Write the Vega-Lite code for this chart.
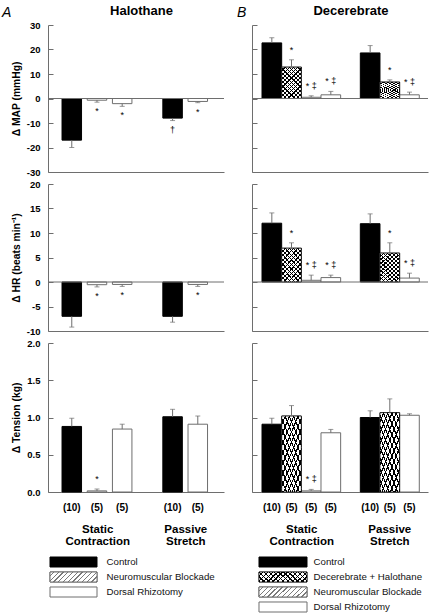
{
"$schema": "https://vega.github.io/schema/vega-lite/v6.json",
"background": "white",
"padding": {"left": 2, "top": 4, "right": 0, "bottom": 0},
"datasets": {"bars": [
{"col":"A","m":"MAP","group":"Static Contraction","cond":"Control","bar":"S-Control","mean":-17,"errEnd":-20,"sig":""},
{"col":"A","m":"MAP","group":"Static Contraction","cond":"Neuromuscular Blockade","bar":"S-NMB","mean":-0.7,"errEnd":-1.5,"sig":"*"},
{"col":"A","m":"MAP","group":"Static Contraction","cond":"Dorsal Rhizotomy","bar":"S-DR","mean":-2.1,"errEnd":-3.2,"sig":"*"},
{"col":"A","m":"MAP","group":"Passive Stretch","cond":"Control","bar":"P-Control","mean":-8,"errEnd":-9,"sig":"†"},
{"col":"A","m":"MAP","group":"Passive Stretch","cond":"Dorsal Rhizotomy","bar":"P-DR","mean":-1.2,"errEnd":-1.7,"sig":"*"},
{"col":"A","m":"HR","group":"Static Contraction","cond":"Control","bar":"S-Control","mean":-7,"errEnd":-9.2,"sig":""},
{"col":"A","m":"HR","group":"Static Contraction","cond":"Neuromuscular Blockade","bar":"S-NMB","mean":-0.55,"errEnd":-1.0,"sig":"*"},
{"col":"A","m":"HR","group":"Static Contraction","cond":"Dorsal Rhizotomy","bar":"S-DR","mean":-0.5,"errEnd":-0.9,"sig":"*"},
{"col":"A","m":"HR","group":"Passive Stretch","cond":"Control","bar":"P-Control","mean":-7,"errEnd":-8.2,"sig":""},
{"col":"A","m":"HR","group":"Passive Stretch","cond":"Dorsal Rhizotomy","bar":"P-DR","mean":-0.5,"errEnd":-0.9,"sig":"*"},
{"col":"A","m":"Tension","group":"Static Contraction","cond":"Control","bar":"S-Control","mean":0.88,"errEnd":0.99,"sig":""},
{"col":"A","m":"Tension","group":"Static Contraction","cond":"Neuromuscular Blockade","bar":"S-NMB","mean":0.015,"errEnd":0.04,"sig":"*"},
{"col":"A","m":"Tension","group":"Static Contraction","cond":"Dorsal Rhizotomy","bar":"S-DR","mean":0.845,"errEnd":0.91,"sig":""},
{"col":"A","m":"Tension","group":"Passive Stretch","cond":"Control","bar":"P-Control","mean":1.01,"errEnd":1.11,"sig":""},
{"col":"A","m":"Tension","group":"Passive Stretch","cond":"Dorsal Rhizotomy","bar":"P-DR","mean":0.91,"errEnd":1.02,"sig":""},
{"col":"B","m":"MAP","group":"Static Contraction","cond":"Control","bar":"S-Control","mean":22.7,"errEnd":24.8,"sig":""},
{"col":"B","m":"MAP","group":"Static Contraction","cond":"Decerebrate + Halothane","bar":"S-Dec","mean":12.8,"errEnd":15.8,"sig":"*"},
{"col":"B","m":"MAP","group":"Static Contraction","cond":"Neuromuscular Blockade","bar":"S-NMB","mean":0.5,"errEnd":1.1,"sig":"* ‡"},
{"col":"B","m":"MAP","group":"Static Contraction","cond":"Dorsal Rhizotomy","bar":"S-DR","mean":1.5,"errEnd":2.9,"sig":"* ‡"},
{"col":"B","m":"MAP","group":"Passive Stretch","cond":"Control","bar":"P-Control","mean":18.6,"errEnd":21.6,"sig":""},
{"col":"B","m":"MAP","group":"Passive Stretch","cond":"Decerebrate + Halothane","bar":"P-Dec","mean":6.7,"errEnd":7.6,"sig":"*"},
{"col":"B","m":"MAP","group":"Passive Stretch","cond":"Dorsal Rhizotomy","bar":"P-DR","mean":1.5,"errEnd":2.6,"sig":"* ‡"},
{"col":"B","m":"HR","group":"Static Contraction","cond":"Control","bar":"S-Control","mean":12.0,"errEnd":14.1,"sig":""},
{"col":"B","m":"HR","group":"Static Contraction","cond":"Decerebrate + Halothane","bar":"S-Dec","mean":6.9,"errEnd":8.0,"sig":"*"},
{"col":"B","m":"HR","group":"Static Contraction","cond":"Neuromuscular Blockade","bar":"S-NMB","mean":0.35,"errEnd":1.4,"sig":"* ‡"},
{"col":"B","m":"HR","group":"Static Contraction","cond":"Dorsal Rhizotomy","bar":"S-DR","mean":0.9,"errEnd":1.4,"sig":"* ‡"},
{"col":"B","m":"HR","group":"Passive Stretch","cond":"Control","bar":"P-Control","mean":11.9,"errEnd":13.9,"sig":""},
{"col":"B","m":"HR","group":"Passive Stretch","cond":"Decerebrate + Halothane","bar":"P-Dec","mean":5.9,"errEnd":8.0,"sig":"*"},
{"col":"B","m":"HR","group":"Passive Stretch","cond":"Dorsal Rhizotomy","bar":"P-DR","mean":0.8,"errEnd":1.8,"sig":"* ‡"},
{"col":"B","m":"Tension","group":"Static Contraction","cond":"Control","bar":"S-Control","mean":0.91,"errEnd":0.99,"sig":""},
{"col":"B","m":"Tension","group":"Static Contraction","cond":"Decerebrate + Halothane","bar":"S-Dec","mean":1.02,"errEnd":1.16,"sig":""},
{"col":"B","m":"Tension","group":"Static Contraction","cond":"Neuromuscular Blockade","bar":"S-NMB","mean":0.015,"errEnd":0.035,"sig":"* ‡"},
{"col":"B","m":"Tension","group":"Static Contraction","cond":"Dorsal Rhizotomy","bar":"S-DR","mean":0.795,"errEnd":0.84,"sig":""},
{"col":"B","m":"Tension","group":"Passive Stretch","cond":"Control","bar":"P-Control","mean":1.0,"errEnd":1.09,"sig":""},
{"col":"B","m":"Tension","group":"Passive Stretch","cond":"Decerebrate + Halothane","bar":"P-Dec","mean":1.065,"errEnd":1.25,"sig":""},
{"col":"B","m":"Tension","group":"Passive Stretch","cond":"Dorsal Rhizotomy","bar":"P-DR","mean":1.03,"errEnd":1.05,"sig":""}
]},
"columns": 2,
"spacing": {"row": 12, "column": 28},
"bounds": "flush",
"align": "each",
"concat": [
{"width": 176, "height": 1, "data": {"values": [{}]}, "mark": {"type": "point", "opacity": 0},
 "title": {"text": "A", "anchor": "start", "dx": -46, "offset": -10.5, "fontStyle": "italic", "fontWeight": "normal", "fontSize": 14}},
{"width": 176, "height": 1, "data": {"values": [{}]}, "mark": {"type": "point", "opacity": 0},
 "title": {"text": "B", "anchor": "start", "dx": -15, "offset": -10.5, "fontStyle": "italic", "fontWeight": "normal", "fontSize": 14}},

{"width": 176, "height": 147,
 "title": {"text": "Halothane", "dx": 5.5, "offset": 2.5},
 "data": {"name": "bars"},
 "transform": [{"filter": "datum.col === 'A' && datum.m === 'MAP'"}],
 "layer": [
  {"mark": {"type": "bar", "strokeWidth": 1},
   "encoding": {
    "x": {"field": "bar", "type": "nominal", "scale": {"domain": ["S-Control","S-NMB","S-DR","gap","P-Control","P-DR"], "paddingInner": 0.226, "paddingOuter": 0.605, "align": 0.46}, "axis": {"labels": false, "ticks": false, "title": null}},
    "y": {"field": "mean", "type": "quantitative", "scale": {"domain": [-30, 30], "nice": false}, "axis": {"values": [-30,-20,-10,0,10,20,30], "tickCount": 20, "labelOverlap": false, "labelExpr": "'' + datum.value", "title": "Δ MAP (mmHg)"}},
    "fill": {"condition": {"test": "datum.cond === 'Control'", "value": "#000"}, "value": "#fff"},
    "stroke": {"condition": {"test": "datum.cond === 'Control'", "value": "#000"}, "value": "#6e6e6e"}}},
  {"mark": {"type": "rule", "color": "#6e6e6e"}, "encoding": {"x": {"field": "bar", "type": "nominal"}, "y": {"field": "mean", "type": "quantitative"}, "y2": {"field": "errEnd"}}},
  {"mark": {"type": "tick", "color": "#6e6e6e", "size": 5, "thickness": 1}, "encoding": {"x": {"field": "bar", "type": "nominal"}, "y": {"field": "errEnd", "type": "quantitative"}}},
  {"data": {"values": [{}]}, "mark": {"type": "rule", "color": "#6e6e6e"}, "encoding": {"y": {"datum": 0}}},
  {"transform": [{"filter": "datum.sig !== '' && datum.mean < 0"}], "mark": {"type": "text", "dy": 9, "fontSize": 9, "color": "#000"}, "encoding": {"x": {"field": "bar", "type": "nominal"}, "y": {"field": "errEnd", "type": "quantitative"}, "text": {"field": "sig"}}}
 ]},

{"width": 176, "height": 147,
 "title": {"text": "Decerebrate", "dx": 11, "offset": 7},
 "data": {"name": "bars"},
 "transform": [{"filter": "datum.col === 'B' && datum.m === 'MAP'"}],
 "layer": [
  {"mark": {"type": "bar", "strokeWidth": 1},
   "encoding": {
    "x": {"field": "bar", "type": "nominal", "scale": {"domain": ["S-Control","S-Dec","S-NMB","S-DR","gap","P-Control","P-Dec","P-DR"], "paddingInner": 0, "paddingOuter": 0.476, "align": 0.535}, "axis": {"labels": false, "ticks": false, "title": null}},
    "y": {"field": "mean", "type": "quantitative", "scale": {"domain": [-30, 30], "nice": false}, "axis": {"values": [-30,-20,-10,0,10,20,30], "tickCount": 20, "labels": false, "title": null}},
    "fill": {"condition": {"test": "datum.cond === 'Control'", "value": "#000"}, "value": "#fff"},
    "stroke": {"condition": {"test": "datum.cond === 'Control'", "value": "#000"}, "value": "#6e6e6e"}}},
  {"transform": [{"filter": "datum.cond === 'Decerebrate + Halothane'"}], "mark": {"type": "bar", "stroke": "#000", "strokeWidth": 0.8, "fill": {"gradient": "linear", "x1": 0, "y1": 0, "x2": 0.73, "y2": 1.168, "stops": [{"offset":0,"color":"#fff"},{"offset":0.06,"color":"#fff"},{"offset":0.06,"color":"#000"},{"offset":0.0833,"color":"#000"},{"offset":0.0833,"color":"#fff"},{"offset":0.1433,"color":"#fff"},{"offset":0.1433,"color":"#000"},{"offset":0.1667,"color":"#000"},{"offset":0.1667,"color":"#fff"},{"offset":0.2267,"color":"#fff"},{"offset":0.2267,"color":"#000"},{"offset":0.25,"color":"#000"},{"offset":0.25,"color":"#fff"},{"offset":0.31,"color":"#fff"},{"offset":0.31,"color":"#000"},{"offset":0.3333,"color":"#000"},{"offset":0.3333,"color":"#fff"},{"offset":0.3933,"color":"#fff"},{"offset":0.3933,"color":"#000"},{"offset":0.4167,"color":"#000"},{"offset":0.4167,"color":"#fff"},{"offset":0.4767,"color":"#fff"},{"offset":0.4767,"color":"#000"},{"offset":0.5,"color":"#000"},{"offset":0.5,"color":"#fff"},{"offset":0.56,"color":"#fff"},{"offset":0.56,"color":"#000"},{"offset":0.5833,"color":"#000"},{"offset":0.5833,"color":"#fff"},{"offset":0.6433,"color":"#fff"},{"offset":0.6433,"color":"#000"},{"offset":0.6667,"color":"#000"},{"offset":0.6667,"color":"#fff"},{"offset":0.7267,"color":"#fff"},{"offset":0.7267,"color":"#000"},{"offset":0.75,"color":"#000"},{"offset":0.75,"color":"#fff"},{"offset":0.81,"color":"#fff"},{"offset":0.81,"color":"#000"},{"offset":0.8333,"color":"#000"},{"offset":0.8333,"color":"#fff"},{"offset":0.8933,"color":"#fff"},{"offset":0.8933,"color":"#000"},{"offset":0.9167,"color":"#000"},{"offset":0.9167,"color":"#fff"},{"offset":0.9767,"color":"#fff"},{"offset":0.9767,"color":"#000"},{"offset":1,"color":"#000"}]}}, "encoding": {"x": {"field": "bar", "type": "nominal"}, "y": {"field": "mean", "type": "quantitative"}}},
  {"transform": [{"filter": "datum.cond === 'Decerebrate + Halothane'"}], "mark": {"type": "bar", "strokeWidth": 0, "fill": {"gradient": "linear", "x1": 1, "y1": 0, "x2": 0.27, "y2": 1.168, "stops": [{"offset":0,"color":"rgba(0,0,0,0)"},{"offset":0.06,"color":"rgba(0,0,0,0)"},{"offset":0.06,"color":"#000"},{"offset":0.0833,"color":"#000"},{"offset":0.0833,"color":"rgba(0,0,0,0)"},{"offset":0.1433,"color":"rgba(0,0,0,0)"},{"offset":0.1433,"color":"#000"},{"offset":0.1667,"color":"#000"},{"offset":0.1667,"color":"rgba(0,0,0,0)"},{"offset":0.2267,"color":"rgba(0,0,0,0)"},{"offset":0.2267,"color":"#000"},{"offset":0.25,"color":"#000"},{"offset":0.25,"color":"rgba(0,0,0,0)"},{"offset":0.31,"color":"rgba(0,0,0,0)"},{"offset":0.31,"color":"#000"},{"offset":0.3333,"color":"#000"},{"offset":0.3333,"color":"rgba(0,0,0,0)"},{"offset":0.3933,"color":"rgba(0,0,0,0)"},{"offset":0.3933,"color":"#000"},{"offset":0.4167,"color":"#000"},{"offset":0.4167,"color":"rgba(0,0,0,0)"},{"offset":0.4767,"color":"rgba(0,0,0,0)"},{"offset":0.4767,"color":"#000"},{"offset":0.5,"color":"#000"},{"offset":0.5,"color":"rgba(0,0,0,0)"},{"offset":0.56,"color":"rgba(0,0,0,0)"},{"offset":0.56,"color":"#000"},{"offset":0.5833,"color":"#000"},{"offset":0.5833,"color":"rgba(0,0,0,0)"},{"offset":0.6433,"color":"rgba(0,0,0,0)"},{"offset":0.6433,"color":"#000"},{"offset":0.6667,"color":"#000"},{"offset":0.6667,"color":"rgba(0,0,0,0)"},{"offset":0.7267,"color":"rgba(0,0,0,0)"},{"offset":0.7267,"color":"#000"},{"offset":0.75,"color":"#000"},{"offset":0.75,"color":"rgba(0,0,0,0)"},{"offset":0.81,"color":"rgba(0,0,0,0)"},{"offset":0.81,"color":"#000"},{"offset":0.8333,"color":"#000"},{"offset":0.8333,"color":"rgba(0,0,0,0)"},{"offset":0.8933,"color":"rgba(0,0,0,0)"},{"offset":0.8933,"color":"#000"},{"offset":0.9167,"color":"#000"},{"offset":0.9167,"color":"rgba(0,0,0,0)"},{"offset":0.9767,"color":"rgba(0,0,0,0)"},{"offset":0.9767,"color":"#000"},{"offset":1,"color":"#000"}]}}, "encoding": {"x": {"field": "bar", "type": "nominal"}, "y": {"field": "mean", "type": "quantitative"}}},
  {"mark": {"type": "rule", "color": "#6e6e6e"}, "encoding": {"x": {"field": "bar", "type": "nominal"}, "y": {"field": "mean", "type": "quantitative"}, "y2": {"field": "errEnd"}}},
  {"mark": {"type": "tick", "color": "#6e6e6e", "size": 5, "thickness": 1}, "encoding": {"x": {"field": "bar", "type": "nominal"}, "y": {"field": "errEnd", "type": "quantitative"}}},
  {"data": {"values": [{}]}, "mark": {"type": "rule", "color": "#6e6e6e"}, "encoding": {"y": {"datum": 0}}},
  {"transform": [{"filter": "datum.sig !== '' && datum.mean >= 0"}], "mark": {"type": "text", "dy": -10, "fontSize": 9, "color": "#000"}, "encoding": {"x": {"field": "bar", "type": "nominal"}, "y": {"field": "errEnd", "type": "quantitative"}, "text": {"field": "sig"}}}
 ]},

{"width": 176, "height": 147,
 "data": {"name": "bars"},
 "transform": [{"filter": "datum.col === 'A' && datum.m === 'HR'"}],
 "layer": [
  {"mark": {"type": "bar", "strokeWidth": 1},
   "encoding": {
    "x": {"field": "bar", "type": "nominal", "scale": {"domain": ["S-Control","S-NMB","S-DR","gap","P-Control","P-DR"], "paddingInner": 0.226, "paddingOuter": 0.605, "align": 0.46}, "axis": {"labels": false, "ticks": false, "title": null}},
    "y": {"field": "mean", "type": "quantitative", "scale": {"domain": [-10, 20], "nice": false}, "axis": {"values": [-10,-5,0,5,10,15,20], "tickCount": 20, "labelOverlap": false, "labelExpr": "'' + datum.value", "title": "Δ HR (beats min⁻¹)"}},
    "fill": {"condition": {"test": "datum.cond === 'Control'", "value": "#000"}, "value": "#fff"},
    "stroke": {"condition": {"test": "datum.cond === 'Control'", "value": "#000"}, "value": "#6e6e6e"}}},
  {"mark": {"type": "rule", "color": "#6e6e6e"}, "encoding": {"x": {"field": "bar", "type": "nominal"}, "y": {"field": "mean", "type": "quantitative"}, "y2": {"field": "errEnd"}}},
  {"mark": {"type": "tick", "color": "#6e6e6e", "size": 5, "thickness": 1}, "encoding": {"x": {"field": "bar", "type": "nominal"}, "y": {"field": "errEnd", "type": "quantitative"}}},
  {"data": {"values": [{}]}, "mark": {"type": "rule", "color": "#6e6e6e"}, "encoding": {"y": {"datum": 0}}},
  {"transform": [{"filter": "datum.sig !== '' && datum.mean < 0"}], "mark": {"type": "text", "dy": 9, "fontSize": 9, "color": "#000"}, "encoding": {"x": {"field": "bar", "type": "nominal"}, "y": {"field": "errEnd", "type": "quantitative"}, "text": {"field": "sig"}}}
 ]},

{"width": 176, "height": 147,
 "data": {"name": "bars"},
 "transform": [{"filter": "datum.col === 'B' && datum.m === 'HR'"}],
 "layer": [
  {"mark": {"type": "bar", "strokeWidth": 1},
   "encoding": {
    "x": {"field": "bar", "type": "nominal", "scale": {"domain": ["S-Control","S-Dec","S-NMB","S-DR","gap","P-Control","P-Dec","P-DR"], "paddingInner": 0, "paddingOuter": 0.476, "align": 0.535}, "axis": {"labels": false, "ticks": false, "title": null}},
    "y": {"field": "mean", "type": "quantitative", "scale": {"domain": [-10, 20], "nice": false}, "axis": {"values": [-10,-5,0,5,10,15,20], "tickCount": 20, "labels": false, "title": null}},
    "fill": {"condition": {"test": "datum.cond === 'Control'", "value": "#000"}, "value": "#fff"},
    "stroke": {"condition": {"test": "datum.cond === 'Control'", "value": "#000"}, "value": "#6e6e6e"}}},
  {"transform": [{"filter": "datum.cond === 'Decerebrate + Halothane'"}], "mark": {"type": "bar", "stroke": "#000", "strokeWidth": 0.8, "fill": {"gradient": "linear", "x1": 0, "y1": 0, "x2": 0.73, "y2": 1.168, "stops": [{"offset":0,"color":"#fff"},{"offset":0.06,"color":"#fff"},{"offset":0.06,"color":"#000"},{"offset":0.0833,"color":"#000"},{"offset":0.0833,"color":"#fff"},{"offset":0.1433,"color":"#fff"},{"offset":0.1433,"color":"#000"},{"offset":0.1667,"color":"#000"},{"offset":0.1667,"color":"#fff"},{"offset":0.2267,"color":"#fff"},{"offset":0.2267,"color":"#000"},{"offset":0.25,"color":"#000"},{"offset":0.25,"color":"#fff"},{"offset":0.31,"color":"#fff"},{"offset":0.31,"color":"#000"},{"offset":0.3333,"color":"#000"},{"offset":0.3333,"color":"#fff"},{"offset":0.3933,"color":"#fff"},{"offset":0.3933,"color":"#000"},{"offset":0.4167,"color":"#000"},{"offset":0.4167,"color":"#fff"},{"offset":0.4767,"color":"#fff"},{"offset":0.4767,"color":"#000"},{"offset":0.5,"color":"#000"},{"offset":0.5,"color":"#fff"},{"offset":0.56,"color":"#fff"},{"offset":0.56,"color":"#000"},{"offset":0.5833,"color":"#000"},{"offset":0.5833,"color":"#fff"},{"offset":0.6433,"color":"#fff"},{"offset":0.6433,"color":"#000"},{"offset":0.6667,"color":"#000"},{"offset":0.6667,"color":"#fff"},{"offset":0.7267,"color":"#fff"},{"offset":0.7267,"color":"#000"},{"offset":0.75,"color":"#000"},{"offset":0.75,"color":"#fff"},{"offset":0.81,"color":"#fff"},{"offset":0.81,"color":"#000"},{"offset":0.8333,"color":"#000"},{"offset":0.8333,"color":"#fff"},{"offset":0.8933,"color":"#fff"},{"offset":0.8933,"color":"#000"},{"offset":0.9167,"color":"#000"},{"offset":0.9167,"color":"#fff"},{"offset":0.9767,"color":"#fff"},{"offset":0.9767,"color":"#000"},{"offset":1,"color":"#000"}]}}, "encoding": {"x": {"field": "bar", "type": "nominal"}, "y": {"field": "mean", "type": "quantitative"}}},
  {"transform": [{"filter": "datum.cond === 'Decerebrate + Halothane'"}], "mark": {"type": "bar", "strokeWidth": 0, "fill": {"gradient": "linear", "x1": 1, "y1": 0, "x2": 0.27, "y2": 1.168, "stops": [{"offset":0,"color":"rgba(0,0,0,0)"},{"offset":0.06,"color":"rgba(0,0,0,0)"},{"offset":0.06,"color":"#000"},{"offset":0.0833,"color":"#000"},{"offset":0.0833,"color":"rgba(0,0,0,0)"},{"offset":0.1433,"color":"rgba(0,0,0,0)"},{"offset":0.1433,"color":"#000"},{"offset":0.1667,"color":"#000"},{"offset":0.1667,"color":"rgba(0,0,0,0)"},{"offset":0.2267,"color":"rgba(0,0,0,0)"},{"offset":0.2267,"color":"#000"},{"offset":0.25,"color":"#000"},{"offset":0.25,"color":"rgba(0,0,0,0)"},{"offset":0.31,"color":"rgba(0,0,0,0)"},{"offset":0.31,"color":"#000"},{"offset":0.3333,"color":"#000"},{"offset":0.3333,"color":"rgba(0,0,0,0)"},{"offset":0.3933,"color":"rgba(0,0,0,0)"},{"offset":0.3933,"color":"#000"},{"offset":0.4167,"color":"#000"},{"offset":0.4167,"color":"rgba(0,0,0,0)"},{"offset":0.4767,"color":"rgba(0,0,0,0)"},{"offset":0.4767,"color":"#000"},{"offset":0.5,"color":"#000"},{"offset":0.5,"color":"rgba(0,0,0,0)"},{"offset":0.56,"color":"rgba(0,0,0,0)"},{"offset":0.56,"color":"#000"},{"offset":0.5833,"color":"#000"},{"offset":0.5833,"color":"rgba(0,0,0,0)"},{"offset":0.6433,"color":"rgba(0,0,0,0)"},{"offset":0.6433,"color":"#000"},{"offset":0.6667,"color":"#000"},{"offset":0.6667,"color":"rgba(0,0,0,0)"},{"offset":0.7267,"color":"rgba(0,0,0,0)"},{"offset":0.7267,"color":"#000"},{"offset":0.75,"color":"#000"},{"offset":0.75,"color":"rgba(0,0,0,0)"},{"offset":0.81,"color":"rgba(0,0,0,0)"},{"offset":0.81,"color":"#000"},{"offset":0.8333,"color":"#000"},{"offset":0.8333,"color":"rgba(0,0,0,0)"},{"offset":0.8933,"color":"rgba(0,0,0,0)"},{"offset":0.8933,"color":"#000"},{"offset":0.9167,"color":"#000"},{"offset":0.9167,"color":"rgba(0,0,0,0)"},{"offset":0.9767,"color":"rgba(0,0,0,0)"},{"offset":0.9767,"color":"#000"},{"offset":1,"color":"#000"}]}}, "encoding": {"x": {"field": "bar", "type": "nominal"}, "y": {"field": "mean", "type": "quantitative"}}},
  {"mark": {"type": "rule", "color": "#6e6e6e"}, "encoding": {"x": {"field": "bar", "type": "nominal"}, "y": {"field": "mean", "type": "quantitative"}, "y2": {"field": "errEnd"}}},
  {"mark": {"type": "tick", "color": "#6e6e6e", "size": 5, "thickness": 1}, "encoding": {"x": {"field": "bar", "type": "nominal"}, "y": {"field": "errEnd", "type": "quantitative"}}},
  {"data": {"values": [{}]}, "mark": {"type": "rule", "color": "#6e6e6e"}, "encoding": {"y": {"datum": 0}}},
  {"transform": [{"filter": "datum.sig !== '' && datum.mean >= 0"}], "mark": {"type": "text", "dy": -10, "fontSize": 9, "color": "#000"}, "encoding": {"x": {"field": "bar", "type": "nominal"}, "y": {"field": "errEnd", "type": "quantitative"}, "text": {"field": "sig"}}}
 ]},

{"width": 176, "height": 149,
 "data": {"name": "bars"},
 "transform": [{"filter": "datum.col === 'A' && datum.m === 'Tension'"}],
 "layer": [
  {"layer": [
   {"mark": {"type": "bar", "strokeWidth": 1},
    "encoding": {
     "x": {"field": "bar", "type": "nominal", "scale": {"domain": ["S-Control","S-NMB","S-DR","gap","P-Control","P-DR"], "paddingInner": 0.226, "paddingOuter": 0.605, "align": 0.46}, "axis": {"labelExpr": "indexof(datum.value, 'Control') >= 0 ? '(10)' : (datum.value === 'gap' ? '' : '(5)')", "ticks": false, "tickSize": 0, "labelPadding": 10, "labelFontSize": 10, "labelAngle": 0, "title": null}},
     "y": {"field": "mean", "type": "quantitative", "scale": {"domain": [0, 2], "nice": false}, "axis": {"values": [0, 0.5, 1, 1.5, 2], "tickCount": 20, "labelOverlap": false, "format": ".1f", "title": "Δ Tension (kg)"}},
     "fill": {"condition": {"test": "datum.cond === 'Control'", "value": "#000"}, "value": "#fff"},
     "stroke": {"condition": {"test": "datum.cond === 'Control'", "value": "#000"}, "value": "#6e6e6e"}}},
   {"mark": {"type": "rule", "color": "#6e6e6e"}, "encoding": {"x": {"field": "bar", "type": "nominal"}, "y": {"field": "mean", "type": "quantitative"}, "y2": {"field": "errEnd"}}},
   {"mark": {"type": "tick", "color": "#6e6e6e", "size": 5, "thickness": 1}, "encoding": {"x": {"field": "bar", "type": "nominal"}, "y": {"field": "errEnd", "type": "quantitative"}}},
   {"transform": [{"filter": "datum.sig !== ''"}], "mark": {"type": "text", "dy": -10, "fontSize": 9, "color": "#000"}, "encoding": {"x": {"field": "bar", "type": "nominal"}, "y": {"field": "errEnd", "type": "quantitative"}, "text": {"field": "sig"}}}
  ]},
  {"mark": {"type": "text", "text": " "},
   "encoding": {"x": {"field": "group", "type": "nominal", "scale": {"type": "point", "domain": ["Static Contraction", "Passive Stretch"], "padding": 0.5, "align": 0.56}, "axis": {"orient": "bottom", "domain": false, "ticks": false, "tickSize": 0, "labelPadding": 31, "labelExpr": "split(datum.label, ' ')", "labelFontSize": 11.5, "labelLineHeight": 12, "labelAngle": 0, "title": null}}}}
 ],
 "resolve": {"scale": {"x": "independent"}, "axis": {"x": "independent"}}},

{"width": 176, "height": 149,
 "data": {"name": "bars"},
 "transform": [{"filter": "datum.col === 'B' && datum.m === 'Tension'"}],
 "layer": [
  {"layer": [
   {"mark": {"type": "bar", "strokeWidth": 1},
    "encoding": {
     "x": {"field": "bar", "type": "nominal", "scale": {"domain": ["S-Control","S-Dec","S-NMB","S-DR","gap","P-Control","P-Dec","P-DR"], "paddingInner": 0, "paddingOuter": 0.476, "align": 0.535}, "axis": {"labelExpr": "indexof(datum.value, 'Control') >= 0 ? '(10)' : (datum.value === 'gap' ? '' : '(5)')", "ticks": false, "tickSize": 0, "labelPadding": 10, "labelFontSize": 10, "labelAngle": 0, "title": null}},
     "y": {"field": "mean", "type": "quantitative", "scale": {"domain": [0, 2], "nice": false}, "axis": {"values": [0, 0.5, 1, 1.5, 2], "tickCount": 20, "labels": false, "title": null}},
     "fill": {"condition": {"test": "datum.cond === 'Control'", "value": "#000"}, "value": "#fff"},
     "stroke": {"condition": {"test": "datum.cond === 'Control'", "value": "#000"}, "value": "#6e6e6e"}}},
   {"transform": [{"filter": "datum.cond === 'Decerebrate + Halothane'"}], "mark": {"type": "bar", "stroke": "#000", "strokeWidth": 0.8, "fill": {"gradient": "linear", "x1": 0, "y1": 0, "x2": 0.73, "y2": 1.168, "stops": [{"offset":0,"color":"#fff"},{"offset":0.06,"color":"#fff"},{"offset":0.06,"color":"#000"},{"offset":0.0833,"color":"#000"},{"offset":0.0833,"color":"#fff"},{"offset":0.1433,"color":"#fff"},{"offset":0.1433,"color":"#000"},{"offset":0.1667,"color":"#000"},{"offset":0.1667,"color":"#fff"},{"offset":0.2267,"color":"#fff"},{"offset":0.2267,"color":"#000"},{"offset":0.25,"color":"#000"},{"offset":0.25,"color":"#fff"},{"offset":0.31,"color":"#fff"},{"offset":0.31,"color":"#000"},{"offset":0.3333,"color":"#000"},{"offset":0.3333,"color":"#fff"},{"offset":0.3933,"color":"#fff"},{"offset":0.3933,"color":"#000"},{"offset":0.4167,"color":"#000"},{"offset":0.4167,"color":"#fff"},{"offset":0.4767,"color":"#fff"},{"offset":0.4767,"color":"#000"},{"offset":0.5,"color":"#000"},{"offset":0.5,"color":"#fff"},{"offset":0.56,"color":"#fff"},{"offset":0.56,"color":"#000"},{"offset":0.5833,"color":"#000"},{"offset":0.5833,"color":"#fff"},{"offset":0.6433,"color":"#fff"},{"offset":0.6433,"color":"#000"},{"offset":0.6667,"color":"#000"},{"offset":0.6667,"color":"#fff"},{"offset":0.7267,"color":"#fff"},{"offset":0.7267,"color":"#000"},{"offset":0.75,"color":"#000"},{"offset":0.75,"color":"#fff"},{"offset":0.81,"color":"#fff"},{"offset":0.81,"color":"#000"},{"offset":0.8333,"color":"#000"},{"offset":0.8333,"color":"#fff"},{"offset":0.8933,"color":"#fff"},{"offset":0.8933,"color":"#000"},{"offset":0.9167,"color":"#000"},{"offset":0.9167,"color":"#fff"},{"offset":0.9767,"color":"#fff"},{"offset":0.9767,"color":"#000"},{"offset":1,"color":"#000"}]}}, "encoding": {"x": {"field": "bar", "type": "nominal"}, "y": {"field": "mean", "type": "quantitative"}}},
   {"transform": [{"filter": "datum.cond === 'Decerebrate + Halothane'"}], "mark": {"type": "bar", "strokeWidth": 0, "fill": {"gradient": "linear", "x1": 1, "y1": 0, "x2": 0.27, "y2": 1.168, "stops": [{"offset":0,"color":"rgba(0,0,0,0)"},{"offset":0.06,"color":"rgba(0,0,0,0)"},{"offset":0.06,"color":"#000"},{"offset":0.0833,"color":"#000"},{"offset":0.0833,"color":"rgba(0,0,0,0)"},{"offset":0.1433,"color":"rgba(0,0,0,0)"},{"offset":0.1433,"color":"#000"},{"offset":0.1667,"color":"#000"},{"offset":0.1667,"color":"rgba(0,0,0,0)"},{"offset":0.2267,"color":"rgba(0,0,0,0)"},{"offset":0.2267,"color":"#000"},{"offset":0.25,"color":"#000"},{"offset":0.25,"color":"rgba(0,0,0,0)"},{"offset":0.31,"color":"rgba(0,0,0,0)"},{"offset":0.31,"color":"#000"},{"offset":0.3333,"color":"#000"},{"offset":0.3333,"color":"rgba(0,0,0,0)"},{"offset":0.3933,"color":"rgba(0,0,0,0)"},{"offset":0.3933,"color":"#000"},{"offset":0.4167,"color":"#000"},{"offset":0.4167,"color":"rgba(0,0,0,0)"},{"offset":0.4767,"color":"rgba(0,0,0,0)"},{"offset":0.4767,"color":"#000"},{"offset":0.5,"color":"#000"},{"offset":0.5,"color":"rgba(0,0,0,0)"},{"offset":0.56,"color":"rgba(0,0,0,0)"},{"offset":0.56,"color":"#000"},{"offset":0.5833,"color":"#000"},{"offset":0.5833,"color":"rgba(0,0,0,0)"},{"offset":0.6433,"color":"rgba(0,0,0,0)"},{"offset":0.6433,"color":"#000"},{"offset":0.6667,"color":"#000"},{"offset":0.6667,"color":"rgba(0,0,0,0)"},{"offset":0.7267,"color":"rgba(0,0,0,0)"},{"offset":0.7267,"color":"#000"},{"offset":0.75,"color":"#000"},{"offset":0.75,"color":"rgba(0,0,0,0)"},{"offset":0.81,"color":"rgba(0,0,0,0)"},{"offset":0.81,"color":"#000"},{"offset":0.8333,"color":"#000"},{"offset":0.8333,"color":"rgba(0,0,0,0)"},{"offset":0.8933,"color":"rgba(0,0,0,0)"},{"offset":0.8933,"color":"#000"},{"offset":0.9167,"color":"#000"},{"offset":0.9167,"color":"rgba(0,0,0,0)"},{"offset":0.9767,"color":"rgba(0,0,0,0)"},{"offset":0.9767,"color":"#000"},{"offset":1,"color":"#000"}]}}, "encoding": {"x": {"field": "bar", "type": "nominal"}, "y": {"field": "mean", "type": "quantitative"}}},
   {"mark": {"type": "rule", "color": "#6e6e6e"}, "encoding": {"x": {"field": "bar", "type": "nominal"}, "y": {"field": "mean", "type": "quantitative"}, "y2": {"field": "errEnd"}}},
   {"mark": {"type": "tick", "color": "#6e6e6e", "size": 5, "thickness": 1}, "encoding": {"x": {"field": "bar", "type": "nominal"}, "y": {"field": "errEnd", "type": "quantitative"}}},
   {"transform": [{"filter": "datum.sig !== ''"}], "mark": {"type": "text", "dy": -10, "fontSize": 9, "color": "#000"}, "encoding": {"x": {"field": "bar", "type": "nominal"}, "y": {"field": "errEnd", "type": "quantitative"}, "text": {"field": "sig"}}}
  ]},
  {"mark": {"type": "text", "text": " "},
   "encoding": {"x": {"field": "group", "type": "nominal", "scale": {"type": "point", "domain": ["Static Contraction", "Passive Stretch"], "padding": 0.5, "align": 0.56}, "axis": {"orient": "bottom", "domain": false, "ticks": false, "tickSize": 0, "labelPadding": 31, "labelExpr": "split(datum.label, ' ')", "labelFontSize": 11.5, "labelLineHeight": 12, "labelAngle": 0, "title": null}}}}
 ],
 "resolve": {"scale": {"x": "independent"}, "axis": {"x": "independent"}}},

{"width": 49, "height": 110,
 "data": {"values": [{"cond": "Control"}, {"cond": "Neuromuscular Blockade"}, {"cond": "Dorsal Rhizotomy"}]},
 "encoding": {
  "x": {"datum": "swatch", "type": "nominal", "scale": {"paddingInner": 0, "paddingOuter": 0.0213, "align": 1}, "axis": null},
  "y": {"field": "cond", "type": "nominal", "sort": null, "scale": {"domain": ["Control", "Neuromuscular Blockade", "Dorsal Rhizotomy"], "range": [53, 93], "paddingInner": 0.3333, "paddingOuter": 0}, "axis": {"orient": "right", "domain": false, "ticks": false, "tickSize": 0, "labelPadding": 9, "labelFontWeight": "normal", "labelFontSize": 9.7, "labelColor": "#111", "title": null}}},
 "layer": [
  {"mark": {"type": "bar", "strokeWidth": 1},
   "encoding": {"fill": {"condition": {"test": "datum.cond === 'Control'", "value": "#000"}, "value": "#fff"},
                "stroke": {"condition": {"test": "datum.cond === 'Control'", "value": "#000"}, "value": "#6e6e6e"}}},
  {"transform": [{"filter": "datum.cond === 'Neuromuscular Blockade'"}], "mark": {"type": "bar", "stroke": "#6e6e6e", "strokeWidth": 1, "fill": {"gradient": "linear", "x1": 0, "y1": 0, "x2": 1.16, "y2": 0.247, "stops": [{"offset":0,"color":"#fff"},{"offset":0.06,"color":"#fff"},{"offset":0.06,"color":"#7a7a7a"},{"offset":0.0833,"color":"#7a7a7a"},{"offset":0.0833,"color":"#fff"},{"offset":0.1433,"color":"#fff"},{"offset":0.1433,"color":"#7a7a7a"},{"offset":0.1667,"color":"#7a7a7a"},{"offset":0.1667,"color":"#fff"},{"offset":0.2267,"color":"#fff"},{"offset":0.2267,"color":"#7a7a7a"},{"offset":0.25,"color":"#7a7a7a"},{"offset":0.25,"color":"#fff"},{"offset":0.31,"color":"#fff"},{"offset":0.31,"color":"#7a7a7a"},{"offset":0.3333,"color":"#7a7a7a"},{"offset":0.3333,"color":"#fff"},{"offset":0.3933,"color":"#fff"},{"offset":0.3933,"color":"#7a7a7a"},{"offset":0.4167,"color":"#7a7a7a"},{"offset":0.4167,"color":"#fff"},{"offset":0.4767,"color":"#fff"},{"offset":0.4767,"color":"#7a7a7a"},{"offset":0.5,"color":"#7a7a7a"},{"offset":0.5,"color":"#fff"},{"offset":0.56,"color":"#fff"},{"offset":0.56,"color":"#7a7a7a"},{"offset":0.5833,"color":"#7a7a7a"},{"offset":0.5833,"color":"#fff"},{"offset":0.6433,"color":"#fff"},{"offset":0.6433,"color":"#7a7a7a"},{"offset":0.6667,"color":"#7a7a7a"},{"offset":0.6667,"color":"#fff"},{"offset":0.7267,"color":"#fff"},{"offset":0.7267,"color":"#7a7a7a"},{"offset":0.75,"color":"#7a7a7a"},{"offset":0.75,"color":"#fff"},{"offset":0.81,"color":"#fff"},{"offset":0.81,"color":"#7a7a7a"},{"offset":0.8333,"color":"#7a7a7a"},{"offset":0.8333,"color":"#fff"},{"offset":0.8933,"color":"#fff"},{"offset":0.8933,"color":"#7a7a7a"},{"offset":0.9167,"color":"#7a7a7a"},{"offset":0.9167,"color":"#fff"},{"offset":0.9767,"color":"#fff"},{"offset":0.9767,"color":"#7a7a7a"},{"offset":1,"color":"#7a7a7a"}]}}}
 ]},

{"width": 55, "height": 110,
 "data": {"values": [{"cond": "Control"}, {"cond": "Decerebrate + Halothane"}, {"cond": "Neuromuscular Blockade"}, {"cond": "Dorsal Rhizotomy"}]},
 "encoding": {
  "x": {"datum": "swatch", "type": "nominal", "scale": {"paddingInner": 0, "paddingOuter": 0.0729, "align": 1}, "axis": null},
  "y": {"field": "cond", "type": "nominal", "sort": null, "scale": {"domain": ["Control", "Decerebrate + Halothane", "Neuromuscular Blockade", "Dorsal Rhizotomy"], "range": [53, 108], "paddingInner": 0.3333, "paddingOuter": 0}, "axis": {"orient": "right", "domain": false, "ticks": false, "tickSize": 0, "labelPadding": 6, "labelFontWeight": "normal", "labelFontSize": 9.7, "labelColor": "#111", "title": null}}},
 "layer": [
  {"mark": {"type": "bar", "strokeWidth": 1},
   "encoding": {"fill": {"condition": {"test": "datum.cond === 'Control'", "value": "#000"}, "value": "#fff"},
                "stroke": {"condition": {"test": "datum.cond === 'Control'", "value": "#000"}, "value": "#6e6e6e"}}},
  {"transform": [{"filter": "datum.cond === 'Decerebrate + Halothane'"}], "mark": {"type": "bar", "stroke": "#000", "strokeWidth": 0.8, "fill": {"gradient": "linear", "x1": 0, "y1": 0, "x2": 1.16, "y2": 0.247, "stops": [{"offset":0,"color":"#fff"},{"offset":0.06,"color":"#fff"},{"offset":0.06,"color":"#000"},{"offset":0.0833,"color":"#000"},{"offset":0.0833,"color":"#fff"},{"offset":0.1433,"color":"#fff"},{"offset":0.1433,"color":"#000"},{"offset":0.1667,"color":"#000"},{"offset":0.1667,"color":"#fff"},{"offset":0.2267,"color":"#fff"},{"offset":0.2267,"color":"#000"},{"offset":0.25,"color":"#000"},{"offset":0.25,"color":"#fff"},{"offset":0.31,"color":"#fff"},{"offset":0.31,"color":"#000"},{"offset":0.3333,"color":"#000"},{"offset":0.3333,"color":"#fff"},{"offset":0.3933,"color":"#fff"},{"offset":0.3933,"color":"#000"},{"offset":0.4167,"color":"#000"},{"offset":0.4167,"color":"#fff"},{"offset":0.4767,"color":"#fff"},{"offset":0.4767,"color":"#000"},{"offset":0.5,"color":"#000"},{"offset":0.5,"color":"#fff"},{"offset":0.56,"color":"#fff"},{"offset":0.56,"color":"#000"},{"offset":0.5833,"color":"#000"},{"offset":0.5833,"color":"#fff"},{"offset":0.6433,"color":"#fff"},{"offset":0.6433,"color":"#000"},{"offset":0.6667,"color":"#000"},{"offset":0.6667,"color":"#fff"},{"offset":0.7267,"color":"#fff"},{"offset":0.7267,"color":"#000"},{"offset":0.75,"color":"#000"},{"offset":0.75,"color":"#fff"},{"offset":0.81,"color":"#fff"},{"offset":0.81,"color":"#000"},{"offset":0.8333,"color":"#000"},{"offset":0.8333,"color":"#fff"},{"offset":0.8933,"color":"#fff"},{"offset":0.8933,"color":"#000"},{"offset":0.9167,"color":"#000"},{"offset":0.9167,"color":"#fff"},{"offset":0.9767,"color":"#fff"},{"offset":0.9767,"color":"#000"},{"offset":1,"color":"#000"}]}}},
  {"transform": [{"filter": "datum.cond === 'Decerebrate + Halothane'"}], "mark": {"type": "bar", "strokeWidth": 0, "fill": {"gradient": "linear", "x1": 1, "y1": 0, "x2": -0.16, "y2": 0.247, "stops": [{"offset":0,"color":"rgba(0,0,0,0)"},{"offset":0.06,"color":"rgba(0,0,0,0)"},{"offset":0.06,"color":"#000"},{"offset":0.0833,"color":"#000"},{"offset":0.0833,"color":"rgba(0,0,0,0)"},{"offset":0.1433,"color":"rgba(0,0,0,0)"},{"offset":0.1433,"color":"#000"},{"offset":0.1667,"color":"#000"},{"offset":0.1667,"color":"rgba(0,0,0,0)"},{"offset":0.2267,"color":"rgba(0,0,0,0)"},{"offset":0.2267,"color":"#000"},{"offset":0.25,"color":"#000"},{"offset":0.25,"color":"rgba(0,0,0,0)"},{"offset":0.31,"color":"rgba(0,0,0,0)"},{"offset":0.31,"color":"#000"},{"offset":0.3333,"color":"#000"},{"offset":0.3333,"color":"rgba(0,0,0,0)"},{"offset":0.3933,"color":"rgba(0,0,0,0)"},{"offset":0.3933,"color":"#000"},{"offset":0.4167,"color":"#000"},{"offset":0.4167,"color":"rgba(0,0,0,0)"},{"offset":0.4767,"color":"rgba(0,0,0,0)"},{"offset":0.4767,"color":"#000"},{"offset":0.5,"color":"#000"},{"offset":0.5,"color":"rgba(0,0,0,0)"},{"offset":0.56,"color":"rgba(0,0,0,0)"},{"offset":0.56,"color":"#000"},{"offset":0.5833,"color":"#000"},{"offset":0.5833,"color":"rgba(0,0,0,0)"},{"offset":0.6433,"color":"rgba(0,0,0,0)"},{"offset":0.6433,"color":"#000"},{"offset":0.6667,"color":"#000"},{"offset":0.6667,"color":"rgba(0,0,0,0)"},{"offset":0.7267,"color":"rgba(0,0,0,0)"},{"offset":0.7267,"color":"#000"},{"offset":0.75,"color":"#000"},{"offset":0.75,"color":"rgba(0,0,0,0)"},{"offset":0.81,"color":"rgba(0,0,0,0)"},{"offset":0.81,"color":"#000"},{"offset":0.8333,"color":"#000"},{"offset":0.8333,"color":"rgba(0,0,0,0)"},{"offset":0.8933,"color":"rgba(0,0,0,0)"},{"offset":0.8933,"color":"#000"},{"offset":0.9167,"color":"#000"},{"offset":0.9167,"color":"rgba(0,0,0,0)"},{"offset":0.9767,"color":"rgba(0,0,0,0)"},{"offset":0.9767,"color":"#000"},{"offset":1,"color":"#000"}]}}},
  {"transform": [{"filter": "datum.cond === 'Neuromuscular Blockade'"}], "mark": {"type": "bar", "stroke": "#6e6e6e", "strokeWidth": 1, "fill": {"gradient": "linear", "x1": 0, "y1": 0, "x2": 1.16, "y2": 0.247, "stops": [{"offset":0,"color":"#fff"},{"offset":0.06,"color":"#fff"},{"offset":0.06,"color":"#7a7a7a"},{"offset":0.0833,"color":"#7a7a7a"},{"offset":0.0833,"color":"#fff"},{"offset":0.1433,"color":"#fff"},{"offset":0.1433,"color":"#7a7a7a"},{"offset":0.1667,"color":"#7a7a7a"},{"offset":0.1667,"color":"#fff"},{"offset":0.2267,"color":"#fff"},{"offset":0.2267,"color":"#7a7a7a"},{"offset":0.25,"color":"#7a7a7a"},{"offset":0.25,"color":"#fff"},{"offset":0.31,"color":"#fff"},{"offset":0.31,"color":"#7a7a7a"},{"offset":0.3333,"color":"#7a7a7a"},{"offset":0.3333,"color":"#fff"},{"offset":0.3933,"color":"#fff"},{"offset":0.3933,"color":"#7a7a7a"},{"offset":0.4167,"color":"#7a7a7a"},{"offset":0.4167,"color":"#fff"},{"offset":0.4767,"color":"#fff"},{"offset":0.4767,"color":"#7a7a7a"},{"offset":0.5,"color":"#7a7a7a"},{"offset":0.5,"color":"#fff"},{"offset":0.56,"color":"#fff"},{"offset":0.56,"color":"#7a7a7a"},{"offset":0.5833,"color":"#7a7a7a"},{"offset":0.5833,"color":"#fff"},{"offset":0.6433,"color":"#fff"},{"offset":0.6433,"color":"#7a7a7a"},{"offset":0.6667,"color":"#7a7a7a"},{"offset":0.6667,"color":"#fff"},{"offset":0.7267,"color":"#fff"},{"offset":0.7267,"color":"#7a7a7a"},{"offset":0.75,"color":"#7a7a7a"},{"offset":0.75,"color":"#fff"},{"offset":0.81,"color":"#fff"},{"offset":0.81,"color":"#7a7a7a"},{"offset":0.8333,"color":"#7a7a7a"},{"offset":0.8333,"color":"#fff"},{"offset":0.8933,"color":"#fff"},{"offset":0.8933,"color":"#7a7a7a"},{"offset":0.9167,"color":"#7a7a7a"},{"offset":0.9167,"color":"#fff"},{"offset":0.9767,"color":"#fff"},{"offset":0.9767,"color":"#7a7a7a"},{"offset":1,"color":"#7a7a7a"}]}}}
 ]}
],
"config": {
 "font": "Liberation Sans",
 "view": {"stroke": null},
 "mark": {"color": "#000"},
 "axis": {"domainColor": "#6e6e6e", "tickColor": "#6e6e6e", "labelFont": "Liberation Sans", "labelFontWeight": "bold", "labelFontSize": 9.5, "labelColor": "#000", "labelOverlap": false, "titleFont": "Liberation Sans", "titleFontWeight": "bold", "titleFontSize": 10.3, "titleColor": "#000", "grid": false, "domainWidth": 1, "tickWidth": 1},
 "axisY": {"tickSize": -5, "labelPadding": 13, "titlePadding": 5},
 "title": {"font": "Liberation Sans", "fontSize": 13, "fontWeight": "bold", "color": "#000", "baseline": "alphabetic", "anchor": "middle"},
 "text": {"font": "Liberation Sans", "color": "#000"}
}
}
